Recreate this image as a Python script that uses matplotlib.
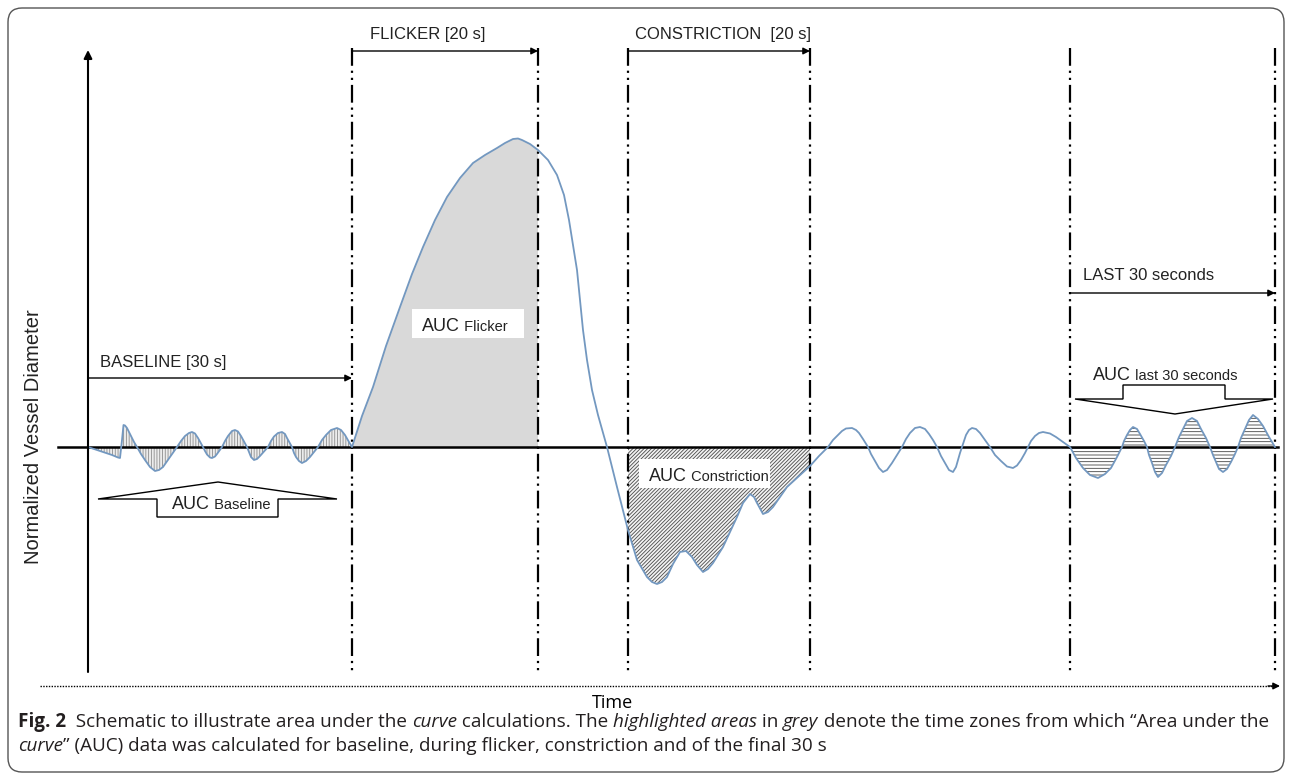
import numpy as np
import matplotlib.pyplot as plt
from matplotlib.patches import FancyBboxPatch, Polygon, Rectangle

# schematic vessel diameter trace (time units, normalized diameter units)
time = [0, 12, 24, 30, 32, 33, 34, 35.5, 37, 39, 43, 46, 49, 53, 57, 62, 67, 71, 75, 82,
        89, 93, 97, 101, 104, 107, 110, 115, 117, 119, 122, 124, 127, 129, 134, 137, 140, 144,
        147, 150, 153, 159, 161, 163, 166, 169, 172, 180, 183, 186, 190, 194, 197, 199, 204,
        206, 208, 211, 214, 218, 222, 230, 234, 238, 243, 249, 253, 257, 261, 264,
        274, 285, 298, 312, 324, 335, 347, 359, 372, 385, 397, 409, 417, 425, 430, 434, 442,
        450, 460, 469, 476, 481, 485, 489, 492, 495, 499, 504, 510, 519, 529, 540,
        549, 559, 564, 569, 574, 579, 585, 592, 598, 604, 609, 615, 620, 625, 635, 642, 649,
        655, 662, 666, 669, 675, 680, 685, 692, 699, 710, 722,
        731, 740, 745, 750, 754, 758, 764, 768, 771, 775, 780, 783, 787, 791, 795, 799, 804,
        809, 814, 818, 822, 827, 832, 837, 841, 845, 849, 853, 857, 861, 865, 868, 870, 872,
        874, 876, 878, 881, 884, 888, 892, 897, 902, 907, 913, 919, 925, 929, 933, 937, 940,
        943, 947, 951, 955, 962, 968, 975, 982,
        988, 995, 1002, 1010, 1017, 1023, 1029, 1034, 1036, 1039, 1042, 1045, 1049, 1052,
        1056, 1059, 1061, 1064, 1067, 1070, 1074, 1078, 1083, 1087, 1091, 1095, 1099, 1104,
        1109, 1113, 1118, 1122, 1125, 1128, 1131, 1135, 1139, 1143, 1147, 1150, 1153, 1157,
        1161, 1165, 1170, 1175, 1181, 1187]
diameter = [0, -4, -8, -10.5, -11, -2, 7, 22, 21.5, 19, 11, 5, 0, -7, -13, -20, -24, -23, -20, -10,
            0, 6, 11, 14, 15, 13.5, 9, 0, -4, -7.5, -10.5, -11, -9.5, -7, 0, 6, 11, 16,
            17, 15.5, 11, 0, -5, -10, -13, -12, -9, 0, 6, 10.5, 14, 15, 13, 9, 0,
            -6, -10, -14, -16, -14, -10, 0, 7, 12, 17, 19, 17, 12, 5, 0,
            31, 60, 101, 140, 173, 200, 227, 250, 269, 284, 292, 299, 304, 308, 308.5, 307, 303,
            297, 287, 272, 252, 227, 202, 177, 147, 117, 87, 57, 32, 0, -40, -83,
            -113, -130, -135, -137, -135, -130, -117, -105, -104, -110, -118, -125, -122, -116, -100, -85, -70,
            -56, -47, -50, -56, -67, -65, -60, -50, -40, -30, -19,
            -9, 0, 7, 12, 16, 18.5, 19, 17, 14, 8, 0, -7, -14, -21, -25, -23, -16,
            -8, 0, 8, 14, 19, 20, 18, 13, 7, 0, -9, -16, -23, -25, -20, -13, -6,
            0, 6, 12, 17, 19, 18, 14, 7, 0, -8, -14, -19.5, -21, -18.5, -13, -6, 0,
            6, 11, 14, 15, 13.5, 10, 5, 0,
            -11, -21, -28, -31, -27, -21, -10, 0, 6, 12, 17, 20, 18, 13,
            6, 0, -8, -16, -25, -30, -26, -18, -9, 0, 10, 18, 26, 29,
            26, 18, 9, 0, -8, -15, -22, -25, -22, -15, -7, 0, 9, 18,
            27, 32, 28, 21, 10, 0]

baseline_win = (0, 264)
flicker_win = (264, 450)
constriction_win = (540, 722)
last_win = (982, 1187)

t = np.array(time, dtype=float)
d = np.array(diameter, dtype=float)

plt.rcParams['hatch.linewidth'] = 0.6
chart_font = 'Liberation Sans'
cap_font = 'Open Sans'


def P(x, y):
    # page pixel -> data coords
    return (x - 88, 447 - y)


fig = plt.figure(figsize=(12.92, 7.8), dpi=100)
ax = fig.add_axes([0, 0, 1, 1])
ax.set_xlim(-88, 1292 - 88)
ax.set_ylim(447 - 780, 447)
ax.axis('off')

# frame
x0, y0 = P(8, 772)
ax.add_patch(FancyBboxPatch((x0, y0), 1276, 764, boxstyle='round,pad=0,rounding_size=14',
                            fc='none', ec='#555555', lw=1.0, zorder=0))

# shaded AUC areas
def seg(win):
    return (t >= win[0]) & (t <= win[1])

ax.fill_between(t, d, 0, where=seg(baseline_win), facecolor='#ececec', edgecolor='#8c8c8c',
                hatch='||||||', lw=0, zorder=1)
ax.fill_between(t, d, 0, where=seg(flicker_win), facecolor='#d9d9d9', lw=0, zorder=1)
ax.fill_between(t, d, 0, where=seg(constriction_win), facecolor='#f2f2f2', edgecolor='#4a4a4a',
                hatch='/////////', lw=0, zorder=1)
ax.fill_between(t, d, 0, where=seg(last_win), facecolor='white', edgecolor='#444444',
                hatch='-----', lw=0, zorder=1)

# zero line
ax.plot([-30, 1190], [0, 0], color='black', lw=1.8, zorder=2)

# curve
ax.plot(t, d, color='#7398c0', lw=1.3, zorder=3)

# window boundaries
for xv in [baseline_win[1], flicker_win[1], constriction_win[0], constriction_win[1],
           last_win[0], last_win[1]]:
    ax.plot([xv, xv], [447 - 48, 447 - 673], color='black', lw=1.6,
            ls=(0, (8, 2.2, 1, 2.2, 1, 2.2)), zorder=2.5)

# y axis
ax.annotate('', xy=P(88, 50), xytext=P(88, 672),
            arrowprops=dict(arrowstyle='-|>', color='black', lw=1.5, mutation_scale=12,
                            shrinkA=0, shrinkB=0))
ax.text(*P(33, 437), 'Normalized Vessel Diameter', rotation=90, ha='center', va='center',
        fontsize=14.5, family=chart_font, color='#222222')

# time axis
ax.plot([P(40, 0)[0], P(1272, 0)[0]], [P(0, 686)[1]] * 2, color='black', lw=1.0,
        ls=(0, (1, 1)))
ax.annotate('', xy=P(1280, 686), xytext=P(1268, 686),
            arrowprops=dict(arrowstyle='-|>', color='black', lw=1.0, mutation_scale=10,
                            shrinkA=0, shrinkB=0))
ax.text(*P(612, 703), 'Time', ha='center', va='center', fontsize=13, family=cap_font)

# period arrows
def period(win, y, label, lx, ly):
    ax.annotate('', xy=(win[1], 447 - y), xytext=(win[0], 447 - y),
                arrowprops=dict(arrowstyle='-|>', color='black', lw=1.0, mutation_scale=10,
                                shrinkA=0, shrinkB=0))
    ax.text(*P(lx, ly), label, ha='left', va='baseline', fontsize=12, family=chart_font,
            color='#222222')

period(baseline_win, 378, 'BASELINE [30 s]', 100, 367)
period(flicker_win, 51, 'FLICKER [20 s]', 370, 39)
period(constriction_win, 51, 'CONSTRICTION  [20 s]', 635, 39)
period(last_win, 293, 'LAST 30 seconds', 1083, 280)


def auc_label(x, y, small):
    xd, yd = P(x, y)
    a = ax.text(xd, yd, 'AUC', ha='left', va='baseline', fontsize=13, family=chart_font,
                color='#222222', zorder=6)
    ax.annotate(' ' + small, xy=(1, yd), xycoords=(a, 'data'), ha='left', va='baseline',
                fontsize=10.5, family=chart_font, color='#222222', zorder=6)


# flicker / constriction boxes
bx, by = P(412, 338)
ax.add_patch(Rectangle((bx, by), 112, 29, fc='white', ec='none', zorder=5))
auc_label(422, 331, 'Flicker')
bx, by = P(639, 488)
ax.add_patch(Rectangle((bx, by), 131, 29, fc='white', ec='none', zorder=5))
auc_label(649, 481, 'Constriction')

# baseline arrow box
ax.add_patch(Polygon([P(98, 499), P(218, 482), P(337, 499), P(278, 499), P(278, 517),
                      P(157, 517), P(157, 499)], closed=True, fc='white', ec='black',
                     lw=1.0, zorder=4))
auc_label(172, 509, 'Baseline')

# last 30 s arrow box
ax.add_patch(Polygon([P(1075, 399), P(1123, 399), P(1123, 385), P(1225, 385), P(1225, 399),
                      P(1273, 399), P(1175, 414)], closed=True, fc='white', ec='black',
                     lw=1.0, zorder=4))
auc_label(1093, 380, 'last 30 seconds')

# caption
line1 = [('Fig. 2', 'bold', 'normal'),
         ('  Schematic to illustrate area under the ', 'normal', 'normal'),
         ('curve', 'normal', 'italic'),
         (' calculations. The ', 'normal', 'normal'),
         ('highlighted areas', 'normal', 'italic'),
         (' in ', 'normal', 'normal'),
         ('grey', 'normal', 'italic'),
         (' denote the time zones from which \u201cArea under the', 'normal', 'normal')]
line2 = [('curve', 'normal', 'italic'),
         ('\u201d (AUC) data was calculated for baseline, during flicker, constriction and of the final 30 s',
          'normal', 'normal')]

cap_size = 11.5


def write_line(parts, x, y):
    xd, yd = P(x, y)
    prev = None
    out = []
    for s, w, st in parts:
        if prev is None:
            a = ax.text(xd, yd, s, ha='left', va='baseline', fontsize=cap_size,
                        family=cap_font, weight=w, style=st, color='#231f20')
        else:
            a = ax.annotate(s, xy=(1, yd), xycoords=(prev, 'data'), ha='left', va='baseline',
                            fontsize=cap_size, family=cap_font, weight=w, style=st,
                            color='#231f20')
        out.append(a)
        prev = a
    return out

l1 = write_line(line1, 18, 727)
l2 = write_line(line2, 18, 751)

fig.canvas.draw()
r = fig.canvas.get_renderer()
right = l1[-1].get_window_extent(r).x1
scale = (1268 - 18) / (right - 18)
for a in l1 + l2:
    a.set_fontsize(cap_size * scale)

fig.savefig('out.png', dpi=100)
